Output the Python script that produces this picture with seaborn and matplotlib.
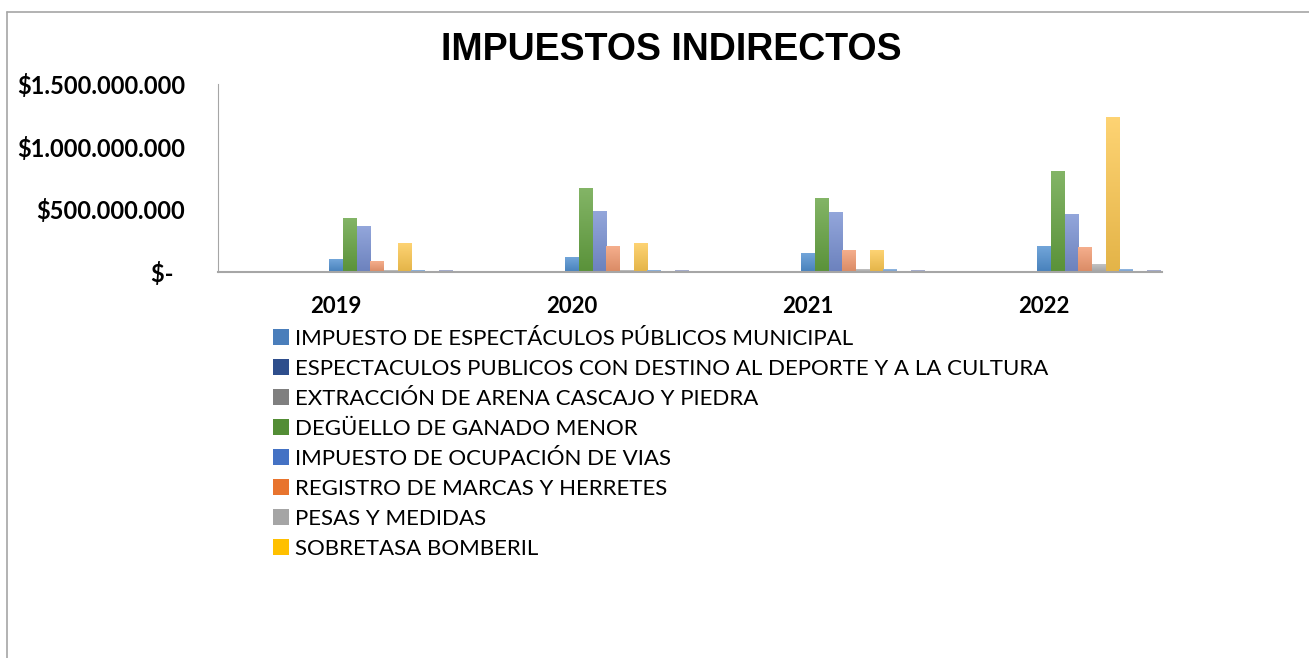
import numpy as np
import pandas as pd
import matplotlib
matplotlib.use("Agg")
import matplotlib.pyplot as plt
import seaborn as sns
from matplotlib.patches import Patch
from matplotlib.lines import Line2D

# ---------------- data ----------------
years = ["2019", "2020", "2021", "2022"]

# series shown in the (truncated) legend
legend_series = [
    "IMPUESTO DE ESPECTÁCULOS PÚBLICOS MUNICIPAL",
    "ESPECTACULOS PUBLICOS CON DESTINO AL DEPORTE Y A LA CULTURA",
    "EXTRACCIÓN DE ARENA CASCAJO Y PIEDRA",
    "DEGÜELLO DE GANADO MENOR",
    "IMPUESTO DE OCUPACIÓN DE VIAS",
    "REGISTRO DE MARCAS Y HERRETES",
    "PESAS Y MEDIDAS",
    "SOBRETASA BOMBERIL",
]
# further series whose legend entries are cut off in the original chart
hidden_series = ["SERIE 9", "SERIE 10", "SERIE 11", "SERIE 12", "SERIE 13",
                 "SERIE 14", "SERIE 15", "SERIE 16", "SERIE 17"]

v_espectaculos_municipal = [0, 0, 0, 0]
v_espectaculos_deporte = [0, 0, 0, 0]
v_extraccion = [0, 0, 0, 0]
v_deguello = [0, 0, 0, 0]
v_ocupacion = [0, 0, 0, 0]
v_registro = [7e6, 6e6, 0, 0]
v_pesas = [0, 0, 0, 0]
v_sobretasa = [0, 0, 6e6, 7e6]
v_serie9 = [98e6, 117e6, 149e6, 200e6]
v_serie10 = [425e6, 668e6, 588e6, 798e6]
v_serie11 = [362e6, 484e6, 476e6, 455e6]
v_serie12 = [82e6, 205e6, 173e6, 192e6]
v_serie13 = [10e6, 12e6, 21e6, 56e6]
v_serie14 = [226e6, 229e6, 173e6, 1229e6]
v_serie15 = [10e6, 12e6, 20e6, 22e6]
v_serie16 = [0, 0, 0, 0]
v_serie17 = [8e6, 8e6, 10e6, 8e6]

values = [v_espectaculos_municipal, v_espectaculos_deporte, v_extraccion,
          v_deguello, v_ocupacion, v_registro, v_pesas, v_sobretasa,
          v_serie9, v_serie10, v_serie11, v_serie12, v_serie13, v_serie14,
          v_serie15, v_serie16, v_serie17]
series = legend_series + hidden_series

ytick_values = [0, 5e8, 1e9, 1.5e9]
ytick_labels = ["$-  ", "$500.000.000", "$1.000.000.000", "$1.500.000.000"]

colors = ["#4A7EBB", "#2E4E8C", "#7F7F7F", "#538D35", "#4472C4", "#E8742E",
          "#A5A5A5", "#FFC000",
          "#4F8FD0", "#64A240", "#7890D2", "#F29A70", "#B4B4B4", "#FDC850",
          "#7AA8DC", "#8A8A8A", "#9AA5CC"]

rows = []
for s, vals in zip(series, values):
    for y, v in zip(years, vals):
        rows.append({"year": y, "series": s, "value": v})
df = pd.DataFrame(rows)

# ---------------- plot ----------------
sns.set_theme(style="white")
plt.rcParams["font.family"] = ["Lato", "DejaVu Sans"]
plt.rcParams["text.color"] = "black"
plt.rcParams["xtick.color"] = "black"
plt.rcParams["ytick.color"] = "black"

W, H = 1309, 658
fig = plt.figure(figsize=(W / 100, H / 100), dpi=100)
fig.patch.set_facecolor("white")
ax = fig.add_axes([218 / W, 1 - 272 / H, (1162 - 218) / W, (272 - 84) / H])

sns.barplot(data=df, x="year", y="value", hue="series", hue_order=series,
            order=years, palette=colors, saturation=1, width=0.985,
            dodge=True, ax=ax, legend=False, linewidth=0, edgecolor="none",
            errorbar=None)

ax.set_ylim(0, 1.5e9)
xl = ax.get_xlim()
yl = ax.get_ylim()

# vertical gradient fill like the original bars
for p in list(ax.patches):
    h = p.get_height()
    if h <= 0:
        continue
    x0, y0, w = p.get_x(), p.get_y(), p.get_width()
    base = np.array(p.get_facecolor()[:3])
    top = base * 0.8 + 0.2
    bottom = base * 0.9
    t = np.linspace(0, 1, 64)[:, None, None]
    img = top[None, None, :] * (1 - t) + bottom[None, None, :] * t
    ax.imshow(img, extent=(x0, x0 + w, y0, y0 + h), aspect="auto",
              origin="upper", zorder=p.get_zorder() + 0.1,
              interpolation="bilinear")
ax.set_xlim(xl)
ax.set_ylim(yl)
ax.set_aspect("auto")

ax.set_yticks(ytick_values)
ax.set_yticklabels(ytick_labels, fontsize=17, fontweight="bold", color="black")
for lbl in ax.get_xticklabels():
    lbl.set_fontsize(16)
    lbl.set_fontweight("bold")
    lbl.set_color("black")
ax.tick_params(axis="y", length=0, pad=23.5)
ax.tick_params(axis="x", length=0, pad=17)
ax.set_xlabel("")
ax.set_ylabel("")
ax.grid(False)
for side in ["top", "right"]:
    ax.spines[side].set_visible(False)
ax.spines["left"].set_color("#A6A6A6")
ax.spines["left"].set_linewidth(0.8)
ax.spines["bottom"].set_color("#A6A6A6")
ax.spines["bottom"].set_linewidth(1.5)
ax.spines["left"].set_zorder(5)
ax.spines["bottom"].set_zorder(5)

# title
fig.text(671 / W, 1 - 60 / H, "IMPUESTOS INDIRECTOS", ha="center",
         va="baseline", fontsize=27, fontweight="bold", color="black",
         family=["Liberation Sans", "DejaVu Sans"])

# legend (only first eight entries visible, as in the original)
handles = [Patch(facecolor=c, edgecolor="none") for c in colors[:8]]
leg = fig.legend(handles=handles, labels=legend_series, loc="upper left",
                 bbox_to_anchor=(273 / W, 1 - 329 / H), frameon=False,
                 fontsize=16, handlelength=0.72, handleheight=0.72,
                 handletextpad=0.27, labelspacing=0.45, borderpad=0,
                 borderaxespad=0)
for t in leg.get_texts():
    t.set_color("black")

# chart border (left and top visible)
fig.add_artist(Line2D([7 / W, 7 / W], [0, 1 - 12 / H], transform=fig.transFigure,
                      color="#A6A6A6", lw=1.2))
fig.add_artist(Line2D([7 / W, 1], [1 - 12 / H, 1 - 12 / H],
                      transform=fig.transFigure, color="#A6A6A6", lw=1.2))

fig.savefig("out.png", dpi=100, facecolor="white")
